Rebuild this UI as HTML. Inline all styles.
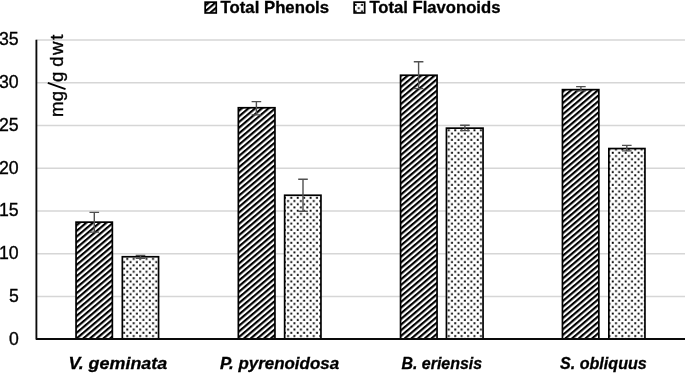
<!DOCTYPE html>
<html><head><meta charset="utf-8"><title>chart</title>
<style>
html,body{margin:0;padding:0;background:#fff;}
svg{display:block;filter:grayscale(1);}
text{font-family:"Liberation Sans",sans-serif;fill:#000;}
</style></head><body>
<svg width="685" height="373" viewBox="0 0 685 373">
<defs>
<pattern id="hatch" patternUnits="userSpaceOnUse" x="-3.24" y="0" width="4.3215" height="4.3215" patternTransform="translate(77 284.4) rotate(49.8)">
<rect x="0" y="0" width="4.3215" height="4.3215" fill="#fff"/>
<rect x="0" y="0" width="2.16" height="4.3215" fill="#000"/>
</pattern>
<pattern id="hatchL" patternUnits="userSpaceOnUse" x="-3.24" y="0" width="4.3215" height="4.3215" patternTransform="translate(77 286.6) rotate(49.8)">
<rect x="0" y="0" width="4.3215" height="4.3215" fill="#fff"/>
<rect x="0" y="0" width="2.16" height="4.3215" fill="#000"/>
</pattern>
<pattern id="dots" patternUnits="userSpaceOnUse" x="447.6" y="302.7" width="6.43" height="6.43">
<rect x="0" y="0" width="6.43" height="6.43" fill="#fff"/>
<rect x="0.25" y="0.25" width="1.9" height="1.9" fill="#000"/>
<rect x="3.465" y="3.465" width="1.9" height="1.9" fill="#000"/>
</pattern>
</defs>
<rect width="685" height="373" fill="#fff"/>

<line x1="36.3" x2="685" y1="296.45" y2="296.45" stroke="#d6d6d6" stroke-width="1.6"/>
<line x1="36.3" x2="685" y1="253.70" y2="253.70" stroke="#d6d6d6" stroke-width="1.6"/>
<line x1="36.3" x2="685" y1="210.95" y2="210.95" stroke="#d6d6d6" stroke-width="1.6"/>
<line x1="36.3" x2="685" y1="168.20" y2="168.20" stroke="#d6d6d6" stroke-width="1.6"/>
<line x1="36.3" x2="685" y1="125.45" y2="125.45" stroke="#d6d6d6" stroke-width="1.6"/>
<line x1="36.3" x2="685" y1="82.70" y2="82.70" stroke="#d6d6d6" stroke-width="1.6"/>
<line x1="36.3" x2="685" y1="39.95" y2="39.95" stroke="#d6d6d6" stroke-width="1.6"/>
<rect x="76.05" y="222.15" width="36.30" height="116.85" fill="url(#hatch)" stroke="#000" stroke-width="1.7"/>
<rect x="122.35" y="256.75" width="36.20" height="82.25" fill="url(#dots)" stroke="#000" stroke-width="1.7"/>
<rect x="238.35" y="107.75" width="36.60" height="231.25" fill="url(#hatch)" stroke="#000" stroke-width="1.7"/>
<rect x="284.65" y="195.25" width="36.30" height="143.75" fill="url(#dots)" stroke="#000" stroke-width="1.7"/>
<rect x="400.55" y="75.25" width="36.50" height="263.75" fill="url(#hatch)" stroke="#000" stroke-width="1.7"/>
<rect x="446.45" y="128.15" width="36.60" height="210.85" fill="url(#dots)" stroke="#000" stroke-width="1.7"/>
<rect x="562.45" y="89.65" width="36.40" height="249.35" fill="url(#hatch)" stroke="#000" stroke-width="1.7"/>
<rect x="608.85" y="148.55" width="36.10" height="190.45" fill="url(#dots)" stroke="#000" stroke-width="1.7"/>
<path d="M36.4 39.65V339.00H686" stroke="#0a0a0a" stroke-width="1.85" fill="none" stroke-linejoin="round"/>
<path d="M89.50 212.40H99.10M94.30 212.40V232.10M89.50 232.10H99.10" stroke="#505050" stroke-width="1.4" fill="none"/>
<path d="M135.70 255.40H145.30M140.50 255.40V258.40M135.70 258.40H145.30" stroke="#505050" stroke-width="1.4" fill="none"/>
<path d="M251.60 101.60H261.20M256.40 101.60V114.90M251.60 114.90H261.20" stroke="#505050" stroke-width="1.4" fill="none"/>
<path d="M298.20 179.20H307.80M303.00 179.20V211.20M298.20 211.20H307.80" stroke="#505050" stroke-width="1.4" fill="none"/>
<path d="M413.80 61.70H423.40M418.60 61.70V88.60M413.80 88.60H423.40" stroke="#505050" stroke-width="1.4" fill="none"/>
<path d="M460.10 125.20H469.70M464.90 125.20V130.60M460.10 130.60H469.70" stroke="#505050" stroke-width="1.4" fill="none"/>
<path d="M576.10 86.60H585.70M580.90 86.60V90.90M576.10 90.90H585.70" stroke="#505050" stroke-width="1.4" fill="none"/>
<path d="M622.00 145.40H631.60M626.80 145.40V150.90M622.00 150.90H631.60" stroke="#505050" stroke-width="1.4" fill="none"/>
<text x="9.0" y="344.70" font-size="17.6" stroke="#000" stroke-width="0.35" textLength="9.8" lengthAdjust="spacingAndGlyphs">0</text>
<text x="9.0" y="301.95" font-size="17.6" stroke="#000" stroke-width="0.35" textLength="9.8" lengthAdjust="spacingAndGlyphs">5</text>
<text x="-1.0" y="259.20" font-size="17.6" stroke="#000" stroke-width="0.35" textLength="19.7" lengthAdjust="spacingAndGlyphs">10</text>
<text x="-1.0" y="216.45" font-size="17.6" stroke="#000" stroke-width="0.35" textLength="19.7" lengthAdjust="spacingAndGlyphs">15</text>
<text x="-1.0" y="173.70" font-size="17.6" stroke="#000" stroke-width="0.35" textLength="19.7" lengthAdjust="spacingAndGlyphs">20</text>
<text x="-1.0" y="130.95" font-size="17.6" stroke="#000" stroke-width="0.35" textLength="19.7" lengthAdjust="spacingAndGlyphs">25</text>
<text x="-1.0" y="88.20" font-size="17.6" stroke="#000" stroke-width="0.35" textLength="19.7" lengthAdjust="spacingAndGlyphs">30</text>
<text x="-1.0" y="45.45" font-size="17.6" stroke="#000" stroke-width="0.35" textLength="19.7" lengthAdjust="spacingAndGlyphs">35</text>
<text transform="translate(63.1 116.0) rotate(-90)" font-size="18.6" stroke="#000" stroke-width="0.35" x="-1.1 14.7 34.0 43 49.3 61.0 76.3">mgg dwt</text>
<line x1="65.5" y1="89.2" x2="47.8" y2="82.9" stroke="#000" stroke-width="1.8"/>
<rect x="205.15" y="2.15" width="11.1" height="10.8" fill="url(#hatchL)" stroke="#000" stroke-width="1.7"/>
<text x="220.6" y="12.7" font-size="16.2" font-weight="bold" stroke="#000" stroke-width="0.3" textLength="108.5" lengthAdjust="spacingAndGlyphs">Total Phenols</text>
<rect x="354.15" y="2.15" width="10.5" height="10.8" fill="url(#dots)" stroke="#000" stroke-width="1.7"/>
<text x="369.4" y="12.7" font-size="16.2" font-weight="bold" stroke="#000" stroke-width="0.3" textLength="131.0" lengthAdjust="spacingAndGlyphs">Total Flavonoids</text>
<text x="68.4" y="369.2" font-size="16.5" font-weight="bold" font-style="italic" stroke="#000" stroke-width="0.3" textLength="98.8" lengthAdjust="spacingAndGlyphs">V. geminata</text>
<text x="219.9" y="369.2" font-size="16.5" font-weight="bold" font-style="italic" stroke="#000" stroke-width="0.3" textLength="119.2" lengthAdjust="spacingAndGlyphs">P. pyrenoidosa</text>
<text x="401.4" y="369.2" font-size="16.5" font-weight="bold" font-style="italic" stroke="#000" stroke-width="0.3" textLength="80.8" lengthAdjust="spacingAndGlyphs">B. eriensis</text>
<text x="560.0" y="369.2" font-size="16.5" font-weight="bold" font-style="italic" stroke="#000" stroke-width="0.3" textLength="86.8" lengthAdjust="spacingAndGlyphs">S. obliquus</text>
</svg></body></html>
